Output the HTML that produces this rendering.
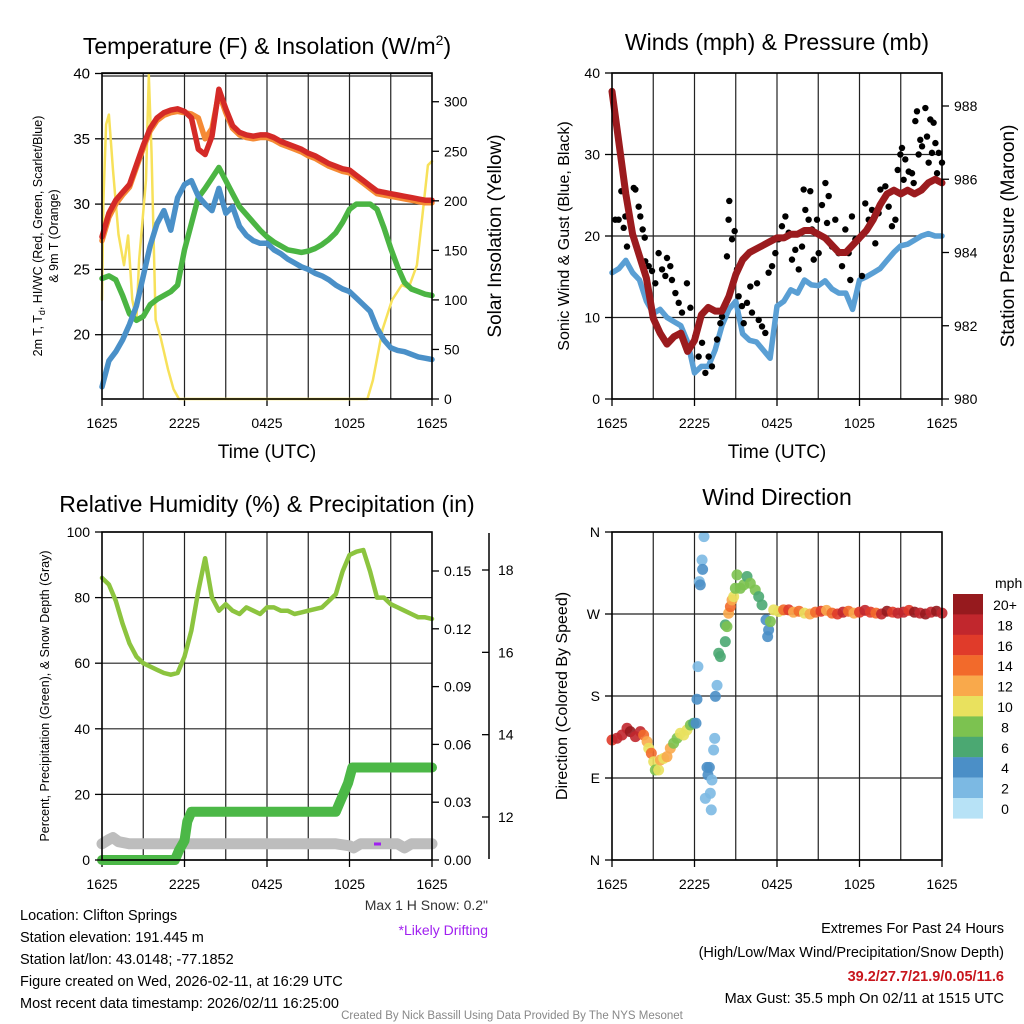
<!DOCTYPE html>
<html><head><meta charset="utf-8"><style>
html,body{margin:0;padding:0;background:#fff;}
svg{display:block;font-family:"Liberation Sans",Arial,sans-serif;}
</style></head><body>
<svg id="root" width="1024" height="1024" viewBox="0 0 1024 1024" xmlns="http://www.w3.org/2000/svg">
<rect x="0" y="0" width="1024" height="1024" fill="#fff"/>
<text x="267" y="54" font-size="23" text-anchor="middle">Temperature (F) &amp; Insolation (W/m<tspan dy="-9" font-size="14">2</tspan><tspan dy="9">)</tspan></text>
<text x="777" y="50" font-size="23" text-anchor="middle">Winds (mph) &amp; Pressure (mb)</text>
<text x="267" y="512" font-size="23" text-anchor="middle">Relative Humidity (%) &amp; Precipitation (in)</text>
<text x="777" y="505" font-size="23" text-anchor="middle">Wind Direction</text>

<text x="267" y="458" font-size="19" text-anchor="middle">Time (UTC)</text>
<text x="777" y="458" font-size="19" text-anchor="middle">Time (UTC)</text>

<text transform="translate(42,236) rotate(-90)" font-size="12.5" text-anchor="middle">2m T, T<tspan font-size="9" dy="3">d</tspan><tspan dy="-3">, HI/WC (Red, Green, Scarlet/Blue)</tspan></text>
<text transform="translate(58,236) rotate(-90)" font-size="12.5" text-anchor="middle">&amp; 9m T (Orange)</text>
<text transform="translate(501,236) rotate(-90)" font-size="19" text-anchor="middle">Solar Insolation (Yellow)</text>
<text transform="translate(569,236) rotate(-90)" font-size="16" text-anchor="middle">Sonic Wind &amp; Gust (Blue, Black)</text>
<text transform="translate(1014,236) rotate(-90)" font-size="19" text-anchor="middle">Station Pressure (Maroon)</text>
<text transform="translate(49,696) rotate(-90)" font-size="12.5" text-anchor="middle">Percent, Precipitation (Green), &amp; Snow Depth (Gray)</text>
<text transform="translate(567,696) rotate(-90)" font-size="16" text-anchor="middle">Direction (Colored By Speed)</text>

<g id="layer"></g>

<text x="995" y="588" font-size="14" text-anchor="start">mph</text>

<text x="488" y="910" font-size="14" fill="#333" text-anchor="end">Max 1 H Snow: 0.2"</text>
<text x="488" y="935" font-size="14" fill="#a020f0" text-anchor="end">*Likely Drifting</text>

<g font-size="14.5">
<text x="20" y="920">Location: Clifton Springs</text>
<text x="20" y="942">Station elevation: 191.445 m</text>
<text x="20" y="964">Station lat/lon: 43.0148; -77.1852</text>
<text x="20" y="986">Figure created on Wed, 2026-02-11, at 16:29 UTC</text>
<text x="20" y="1008">Most recent data timestamp: 2026/02/11 16:25:00</text>
</g>
<g font-size="14.5" text-anchor="end">
<text x="1004" y="933">Extremes For Past 24 Hours</text>
<text x="1004" y="957">(High/Low/Max Wind/Precipitation/Snow Depth)</text>
<text x="1004" y="981" fill="#c8161d" font-weight="bold">39.2/27.7/21.9/0.05/11.6</text>
<text x="1004" y="1003">Max Gust: 35.5 mph On 02/11 at 1515 UTC</text>
</g>
<text x="512" y="1019" font-size="11.5" fill="#888" text-anchor="middle">Created By Nick Bassill Using Data Provided By The NYS Mesonet</text>
</svg>
<script>
const halfHours=[0,0.5,1,1.5,2,2.5,3,3.5,4,4.5,5,5.5,6,6.5,7,7.5,8,8.5,9,9.5,10,10.5,11,11.5,12,12.5,13,13.5,14,14.5,15,15.5,16,16.5,17,17.5,18,18.5,19,19.5,20,20.5,21,21.5,22,22.5,23,23.5,24];
const xTickLabels=["1625","2225","0425","1025","1625"];
const xTickHours=[0,6,12,18,24];
const tempRed=[27.5,29.3,30.3,30.9,31.5,33,34.5,35.8,36.6,37,37.2,37.3,37.1,36.6,34.2,33.8,35.2,38.8,37.3,36,35.5,35.3,35.2,35.3,35.3,35.1,34.8,34.6,34.4,34.2,33.9,33.7,33.4,33.1,32.9,32.7,32.6,32.2,31.8,31.4,31,30.9,30.8,30.7,30.6,30.5,30.4,30.3,30.3];
const temp9m=[27.2,29,30,30.7,31.3,32.8,34.3,35.6,36.4,36.8,37,37.1,37,36.9,36.6,35,35.8,38.5,37,35.8,35.3,35.1,35,35.1,35.1,34.9,34.6,34.4,34.2,34,33.7,33.5,33.2,32.9,32.7,32.5,32.4,32,31.6,31.2,30.8,30.7,30.6,30.5,30.4,30.3,30.2,30.1,30.1];
const dewpoint=[24.3,24.5,24.2,23,21.6,21.1,21.4,22.3,22.7,23,23.3,23.8,26.5,28.5,30.5,31.2,32,32.8,31.8,30.8,29.8,29.2,28.6,28,27.5,27.1,26.8,26.5,26.4,26.3,26.4,26.6,26.9,27.3,27.8,28.6,29.6,30,30,30,29.6,28.2,26.6,25.2,24,23.5,23.3,23.1,23];
const windChill=[16,18,18.7,19.6,20.8,22.2,24.5,26.8,28.5,29.5,28,30.5,31.5,31.8,30.6,30,29.5,31.2,29.3,29.8,28.3,27.6,27.2,27,27,26.5,26.2,25.8,25.5,25.2,25,24.7,24.5,24.2,23.8,23.5,23.3,22.8,22.3,21.8,20.5,19.6,19,18.8,18.7,18.5,18.3,18.2,18.1];
const solarHours=[0,0.1,0.3,0.5,0.8,1.2,1.6,1.9,2.2,2.5,2.7,3.2,3.4,3.6,3.9,4.3,4.8,5.2,5.6,19.3,19.7,20.4,21.1,21.8,22.3,22.9,23.3,23.7,24];
const solarValues=[100,200,277,287,231,166,135,165,100,80,140,221,327,250,80,60,30,10,0,0,19,70,100,115,112,135,185,236,240];
const tempTicks=[20,25,30,35,40];
const solarTicks=[0,50,100,150,200,250,300];
const windSpeed=[15.5,16,17,15.5,14.6,12,10.5,11,10,9.5,9,7,3.2,4,4,6,9,11,12,8,7.2,7,6,5,11.4,12,13.4,13,14.6,14,13.9,14.5,13.5,13,13,11,14.6,15,15.5,16,17,18,18.8,19,19.5,20,20.3,20,20];
const pressure=[988.4,987,985.6,984.5,983.9,983.3,982.2,981.8,981.5,981.7,981.8,981.3,981.6,982.3,982.5,982.4,982.4,982.8,983.4,983.8,984,984.1,984.2,984.3,984.4,984.4,984.5,984.5,984.6,984.6,984.5,984.4,984.2,984,984,984.2,984.4,984.6,984.9,985.3,985.6,985.7,985.6,985.7,985.6,985.7,985.9,986,985.9];
const gustHours=[0.24,0.48,0.68,0.85,0.97,1.09,1.21,1.58,1.7,1.94,2.06,2.23,2.38,2.42,2.67,2.91,3.15,3.39,3.64,3.88,4,4.24,4.36,4.61,4.85,5.09,5.45,5.7,6.06,6.3,6.55,6.79,7.03,7.27,7.64,7.88,8,8.36,8.48,8.53,8.73,8.92,9.09,9.21,9.45,9.58,9.82,10.06,10.18,10.55,10.67,10.91,11.15,11.39,11.64,11.88,12.12,12.36,12.61,12.85,13.09,13.33,13.58,13.82,13.94,14.06,14.3,14.42,14.55,14.67,14.91,15.03,15.27,15.52,15.64,15.76,16,16.24,16.48,16.73,16.97,17.21,17.33,17.45,17.7,17.94,18.18,18.42,18.67,18.91,19.15,19.39,19.52,19.88,20.12,20.36,20.61,20.78,20.97,21.09,21.21,21.33,21.58,21.82,21.94,22.06,22.18,22.3,22.42,22.55,22.79,22.91,23.03,23.15,23.27,23.39,23.52,23.64,23.76,24];
const gustValues=[22,22,25.5,21,22.4,18.7,22.8,25.9,25.7,23.6,22.4,20.8,19.8,16.9,16.3,15.7,14.2,17.9,15.9,15.1,17.3,16.3,14.6,13,11.8,10.6,14.2,11.2,7.7,5.2,6.9,3.2,5.2,4,7.3,9.3,10.1,17.5,22,24.3,19.6,20.6,15.9,12.6,11.4,9.3,11.8,13.8,10.6,14.2,9.7,8.9,8.1,15.5,16.3,17.9,19.6,21.2,22.4,20.4,17.1,18.3,15.9,18.7,25.7,23.2,22,25.5,20.8,17.1,22,17.9,23.8,26.5,21.6,24.9,18.7,22,17.9,16.3,20.8,17.9,14.6,22.4,19.6,19.6,15.1,24,22,23.2,19.1,22.8,25.7,26.1,23.6,21.2,22,28.1,30,30.8,26.9,29.4,27.9,27.7,26.5,34.1,35.3,30,31.8,31,35.7,32.2,29,34.3,30.2,33.9,31.4,27.7,30.2,29];
const windTicks=[0,10,20,30,40];
const pressureTicks=[980,982,984,986,988];
const rh=[86,84,79,72,66,62,60,59,58,57,56.5,57,62,70,82,92,80,76,78,76,75,77,76,75,77,77,76,76,75,75.5,76,76.5,77,79,81,88,93,94,94.5,88,80,80,78,77,76,75,74,74,73.5];
const precipHours=[0,5.3,5.6,6,6.2,6.5,17,17.3,17.6,17.9,18.2,24];
const precipValues=[0,0,0.005,0.01,0.02,0.025,0.025,0.03,0.035,0.04,0.048,0.048];
const snowHours=[0,0.5,0.8,1.2,2,17,18,18.3,18.8,21.5,22,22.5,24];
const snowValues=[11.35,11.45,11.5,11.4,11.35,11.35,11.3,11.25,11.35,11.35,11.25,11.35,11.35];
const rhTicks=[0,20,40,60,80,100];
const precipTicks=[0,0.03,0.06,0.09,0.12,0.15];
const precipTickLabels=["0.00","0.03","0.06","0.09","0.12","0.15"];
const snowTicks=[12,14,16,18];
const dirHours=[0,0.36,0.73,1.09,1.33,1.7,2.06,2.3,2.55,2.67,2.86,3.03,3.15,3.39,3.52,3.76,4,4.24,4.48,4.73,4.97,5.21,5.45,5.7,5.94,6.11,6.18,6.25,6.35,6.42,6.55,6.59,6.69,6.91,6.98,7.08,7.27,7.15,6.79,7.22,7.39,7.47,7.52,7.64,7.76,7.88,8.24,8.24,8.36,8.48,8.61,8.73,8.85,8.97,9.09,9.33,9.58,9.82,10.06,10.42,10.67,10.91,11.2,11.39,11.32,11.52,11.76,12.12,12.48,12.85,13.2,13.6,14,14.4,14.8,15.2,15.6,16,16.4,16.8,17.2,17.6,18,18.4,18.8,19.2,19.6,20,20.4,20.8,21.2,21.6,22,22.4,22.8,23.2,23.6,24];
const dirDegrees=[131.7,133.6,137.2,144.6,140.9,135.4,140.9,137.2,129.9,122.6,117.1,107.9,98.8,98.8,109.8,111.6,113.4,122.6,128.1,133.6,139.1,137.2,142.7,148.2,150.1,150.1,176.4,212.2,305.5,302,329.3,319,354.9,101.7,93.3,101.7,87.8,73.2,67.7,55,120.7,133.5,179.6,191.7,226.9,223.2,239.7,258,256.2,270.8,278.1,285.4,289.1,298.2,312.9,298.2,302,311.1,303.8,296.4,289.1,280,263.5,252.5,245.2,261.7,274.5,272.7,274.5,274.5,272,273,271,270,272,273,274,271,270,272,273,271,272,274,272,271,270,273,272,271,272,274,272,271,270,272,273,271];
const dirSpeed=[16,17,18,17,19,18,18,14,12,10,13,10,8,10,12,10,11,12,8,8,9,10,10,7,6,4,4,1,2,4,2,4,2,4,4,4,2,2,2,2,2,2,4,2,6,6,6,6,7,12,14,11,10,7,7,8,7,6,7,8,6,6,4,4,4,7,10,10,14,15,12,13,10,12,14,16,11,13,15,17,14,12,15,18,16,13,17,19,15,18,17,16,19,18,20,17,19,18];
const dirTickLabels=["N","E","S","W","N"];
const dirTickValues=[0,90,180,270,360];
const cbLabels=["20+","18","16","14","12","10","8","6","4","2","0"];
const cbColors=["#961a1e","#c1272d","#e03b2a","#f26a2b","#f9a94b","#e9e15e","#7cc250","#4ba872","#4b8fc7","#7cb9e3","#b7e2f6"];

const NS="http://www.w3.org/2000/svg";
const layer=document.getElementById('layer');
function el(tag,attrs,parent){const e=document.createElementNS(NS,tag);for(const k in attrs)e.setAttribute(k,attrs[k]);(parent||layer).appendChild(e);return e;}
function lin(d0,d1,r0,r1){return v=>r0+(v-d0)*(r1-r0)/(d1-d0);}
function pathD(xs,ys){return xs.map((x,i)=>(i?'L':'M')+x.toFixed(1)+','+ys[i].toFixed(1)).join(' ');}

function frame(name,L,T,R,B,hgrid){
  const g=el('g',{});
  
  
  const xs=lin(0,24,L,R);
  for(let h=3;h<24;h+=3){
    const l=el('line',{x1:xs(h),x2:xs(h),y1:T,y2:B,stroke:'#222','stroke-width':1.2},g);
    
    
  }
  hgrid.forEach(y=>{
    const l=el('line',{x1:L,x2:R,y1:y,y2:y,stroke:'#222','stroke-width':1.2},g);
    
    
  });
  xTickHours.forEach((h,i)=>{
    const t=el('line',{x1:xs(h),x2:xs(h),y1:B,y2:B+7,stroke:'#000','stroke-width':1.3},g);
    
    
    const tx=el('text',{x:xs(h),y:B+29,'font-size':14,'text-anchor':'middle'},g);
    tx.textContent=xTickLabels[i];
    
    
  });
  return xs;
}
function border(name,L,T,R,B){
  const r=el('rect',{x:L,y:T,width:R-L,height:B-T,fill:'none',stroke:'#000','stroke-width':1.6});
  
  
}
function yAxis(name,x,ticks,scale,labels,side,fs){
  ticks.forEach((v,i)=>{
    const y=scale(v);
    const t=el('line',{x1:x,x2:x+(side<0?-7:7),y1:y,y2:y,stroke:'#000','stroke-width':1.3});
    
    
    const tx=el('text',{x:x+(side<0?-12:12),y:y+5,'font-size':fs||14,'text-anchor':side<0?'end':'start'});
    tx.textContent=labels?labels[i]:String(v);
    
    
  });
}
function line(name,xs,ys,color,w){
  const p=el('path',{d:pathD(xs,ys),fill:'none',stroke:color,'stroke-width':w,'stroke-linejoin':'round','stroke-linecap':'round'});
  
  
  return p;
}
function colorFor(s){let idx=Math.round(s/2);if(idx>10)idx=10;if(idx<0)idx=0;return cbColors[10-idx];}

/* Panel 1 */
{
  const L=102,T=73,R=432,B=399;
  const yT=lin(15,40,400,73.5), yS=lin(0,329,399,73);
  const xs=frame('temp',L,T,R,B,tempTicks.map(yT).concat([76]));
  line('solar-insolation-line',solarHours.map(xs),solarValues.map(yS),'#f7e15a',2.5);
  line('temp-9m-line',halfHours.map(xs),temp9m.map(yT),'#f58a34',5.5);
  line('temp-2m-line',halfHours.map(xs),tempRed.map(yT),'#d42a27',5.5);
  line('dewpoint-line',halfHours.map(xs),dewpoint.map(yT),'#4bb543',5.5);
  line('wind-chill-line',halfHours.map(xs),windChill.map(yT),'#4a90c8',5.5);
  border('temp',L,T,R,B);
  yAxis('temp-y',L,tempTicks,yT,null,-1,15);
  yAxis('solar-y',R,solarTicks,yS,null,1,14);
}
/* Panel 2 */
{
  const L=612,T=73,R=942,B=399;
  const yW=lin(0,40,399,73), yP=lin(980,988,399,106);
  const xs=frame('wind',L,T,R,B,windTicks.map(yW));
  line('wind-speed-line',halfHours.map(xs),windSpeed.map(yW),'#5a9fd4',5.5);
  gustHours.forEach((h,i)=>{
    const c=el('circle',{cx:xs(h),cy:yW(gustValues[i]),r:3.2,fill:'#000'});
    
    
  });
  line('pressure-line',halfHours.map(xs),pressure.map(yP),'#9b1b1e',7);
  border('wind',L,T,R,B);
  yAxis('wind-y',L,windTicks,yW,null,-1,14);
  yAxis('pressure-y',R,pressureTicks,yP,null,1,14);
}
/* Panel 3 */
{
  const L=102,T=532,R=432,B=860;
  const yR=lin(0,100,860,532), yPr=lin(0,0.15,860,571), ySn=lin(12,18,817,570);
  const xs=frame('rh',L,T,R,B,rhTicks.map(yR));
  line('snow-depth-line',snowHours.map(xs),snowValues.map(ySn),'#bdbdbd',11);
  line('precip-line',precipHours.map(xs),precipValues.map(yPr),'#4cb847',10);
  line('rh-line',halfHours.map(xs),rh.map(yR),'#8cc43f',4.5);
  const dr=el('line',{x1:374,x2:381,y1:844,y2:844,stroke:'#a020f0','stroke-width':3});
  
  
  border('rh',L,T,R,B);
  yAxis('rh-y',L,rhTicks,yR,null,-1,14);
  yAxis('precip-y',R,precipTicks,yPr,precipTickLabels,1,14);
  const ax=el('line',{x1:489,x2:489,y1:533,y2:859,stroke:'#000','stroke-width':1.5});
  
  
  snowTicks.forEach(v=>{
    const t=el('line',{x1:482,x2:489,y1:ySn(v),y2:ySn(v),stroke:'#000','stroke-width':1.3});
    
    
    const tx=el('text',{x:498,y:ySn(v)+5,'font-size':14});
    tx.textContent=String(v);
    
    
  });
}
/* Panel 4 */
{
  const L=612,T=532,R=942,B=860;
  const yD=lin(0,360,860,532);
  const xs=frame('direction',L,T,R,B,dirTickValues.map(yD));
  dirHours.forEach((h,i)=>{
    const c=el('circle',{cx:xs(h),cy:yD(dirDegrees[i]),r:5.5,fill:colorFor(dirSpeed[i]),'fill-opacity':0.9});
    
    
  });
  border('direction',L,T,R,B);
  yAxis('direction-y',L,dirTickValues,yD,dirTickLabels,-1,14);
  cbColors.forEach((c,i)=>{
    const r=el('rect',{x:953,y:594+i*20.4,width:30,height:20.6,fill:c});
    
    
    const tx=el('text',{x:1005,y:610+i*20.4,'font-size':14,'text-anchor':'middle'});
    tx.textContent=cbLabels[i];
    
    
  });
}
</script>
</body></html>
